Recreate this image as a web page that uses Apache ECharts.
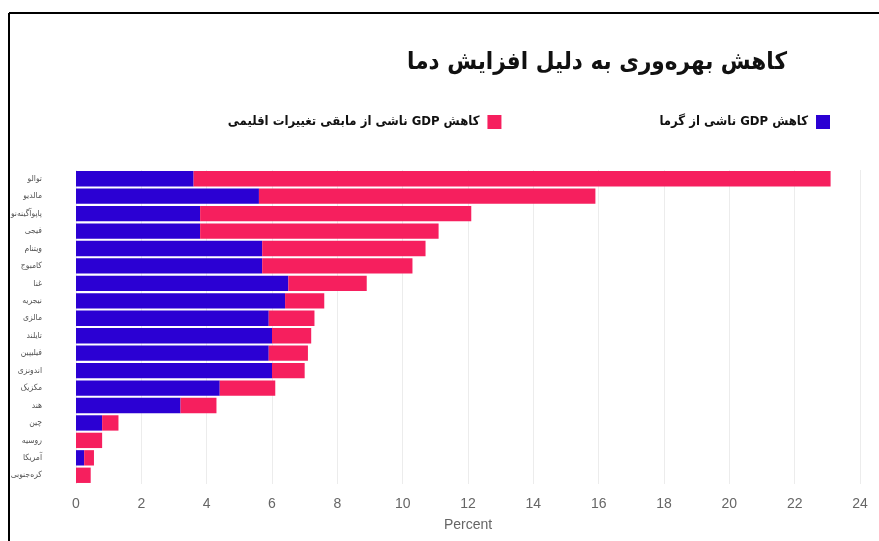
<!DOCTYPE html>
<html><head><meta charset="utf-8">
<script src="https://cdn.jsdelivr.net/npm/echarts@6/dist/echarts.min.js"></script>
<style>html,body{margin:0;padding:0;background:#fff}#c{width:879px;height:541px}</style>
</head><body><div id="c"></div>
<script>
const categories = ['توالو','مالدیو','پاپوآگینه‌نو','فیجی','ویتنام','کامبوج','غنا','نیجریه','مالزی','تایلند','فیلیپین','اندونزی','مکزیک','هند','چین','روسیه','آمریکا','کره‌جنوبی'];
const heatLoss = [3.6, 5.6, 3.8, 3.8, 5.7, 5.7, 6.5, 6.4, 5.9, 6.0, 5.9, 6.0, 4.4, 3.2, 0.8, 0, 0.25, 0];
const otherLoss = [19.5, 10.3, 8.3, 7.3, 5.0, 4.6, 2.4, 1.2, 1.4, 1.2, 1.2, 1.0, 1.7, 1.1, 0.5, 0.8, 0.3, 0.45];
const xTicks = [0, 24, 2];
const seriesNames = ['کاهش GDP ناشی از گرما', 'کاهش GDP ناشی از مابقی تغییرات اقلیمی'];
const titleText = 'کاهش بهره‌وری به دلیل افزایش دما';

const rtl = s => '\u202B' + s + '\u202C';
const chart = echarts.init(document.getElementById('c'));
chart.setOption({
  animation: false,
  backgroundColor: '#fff',
  title: {
    text: rtl(titleText), right: 87, top: 46,
    textStyle: {fontFamily: 'DejaVu Sans Condensed, DejaVu Sans', fontWeight: 'bold', fontSize: 24, color: '#111'}
  },
  legend: {
    data: [seriesNames[1], seriesNames[0]],
    formatter: n => rtl(n),
    right: 44, top: 110, align: 'right', itemWidth: 14, itemHeight: 14, itemGap: 158,
    icon: 'rect',
    textStyle: {fontFamily: 'DejaVu Sans Condensed, DejaVu Sans', fontWeight: 'bold', fontSize: 13, color: '#111',
      padding: [0, 3, 0, 0]}
  },
  grid: {left: 76, right: 19, top: 170, bottom: 57},
  xAxis: {
    type: 'value', min: xTicks[0], max: xTicks[1], interval: xTicks[2],
    name: 'Percent', nameLocation: 'middle', nameGap: 34,
    nameTextStyle: {fontFamily: 'Liberation Sans', fontSize: 14, color: '#666'},
    axisLine: {show: false}, axisTick: {show: false},
    axisLabel: {fontFamily: 'Liberation Sans', fontSize: 14, color: '#666', margin: 13},
    splitLine: {lineStyle: {color: '#ececec', width: 1}}
  },
  yAxis: {
    type: 'category', data: categories, inverse: true,
    axisLine: {show: false}, axisTick: {show: false},
    axisLabel: {fontFamily: 'DejaVu Sans Condensed, DejaVu Sans', fontSize: 8.5, color: '#555', margin: 34,
      formatter: v => rtl(v)}
  },
  series: [
    {name: seriesNames[0], type: 'bar', stack: 't', data: heatLoss, barCategoryGap: '12%',
     itemStyle: {color: '#2b00d3'}},
    {name: seriesNames[1], type: 'bar', stack: 't', data: otherLoss, barCategoryGap: '12%',
     itemStyle: {color: '#f61f5e'}}
  ],
  graphic: [
    {type: 'line', shape: {x1: 9, y1: 13, x2: 879, y2: 13}, style: {stroke: '#000', lineWidth: 2}},
    {type: 'line', shape: {x1: 9, y1: 13, x2: 9, y2: 541}, style: {stroke: '#000', lineWidth: 2}}
  ]
});
</script></body></html>
